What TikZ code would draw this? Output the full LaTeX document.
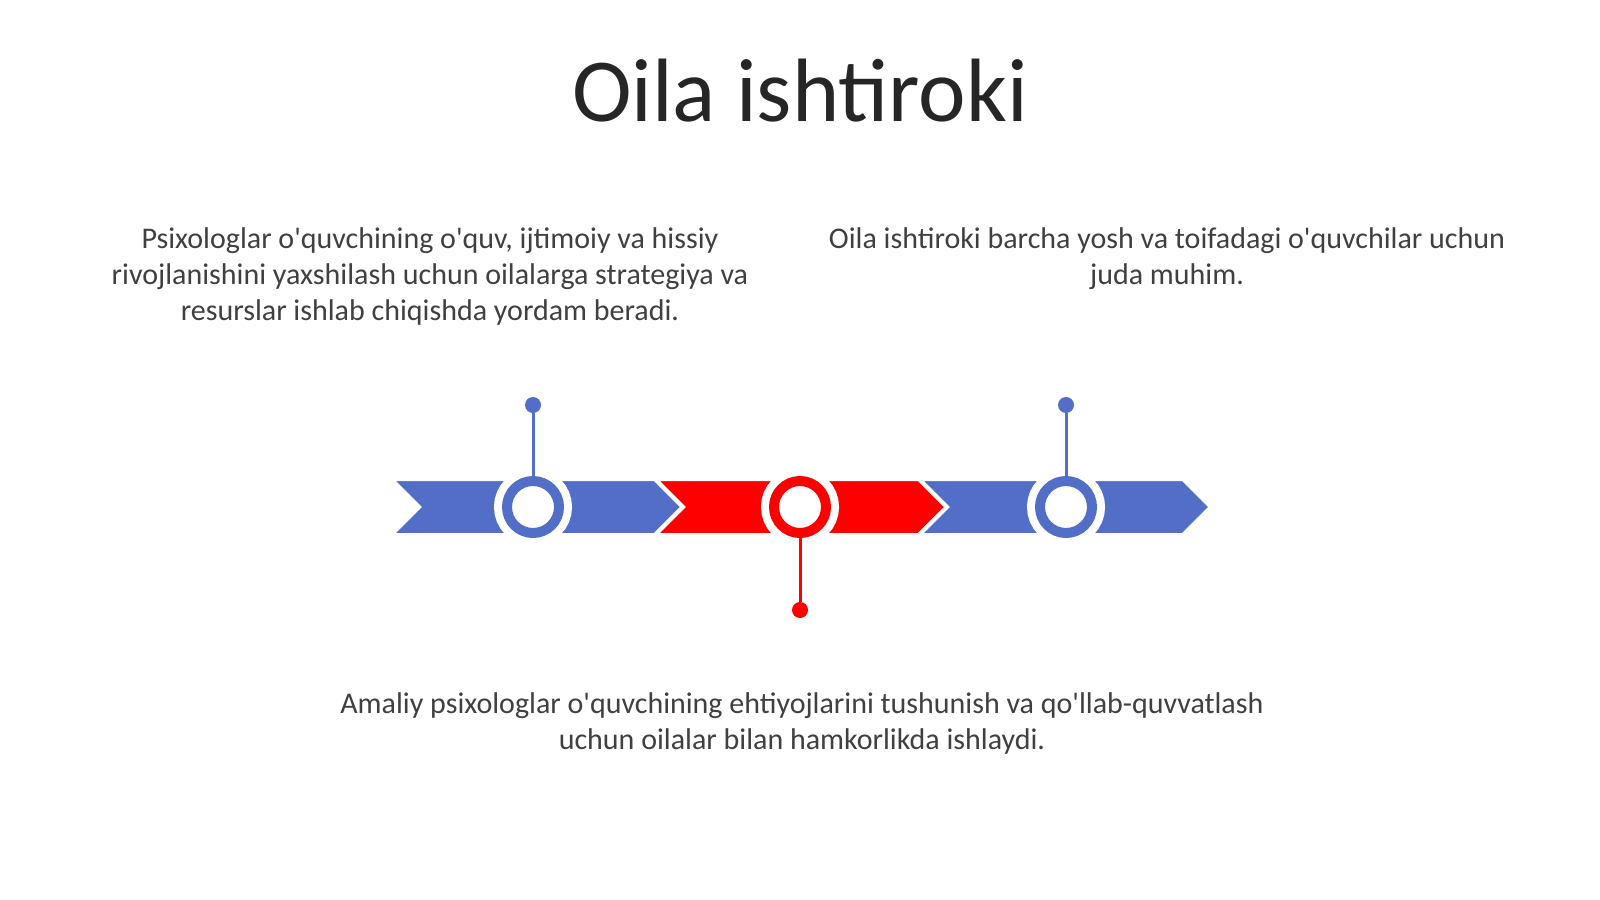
\documentclass[tikz,border=0pt]{standalone}
\usepackage{fontspec}
\setmainfont{Carlito}[Ligatures=TeXOff]
\usetikzlibrary{calc}
\definecolor{tlblue}{RGB}{82,110,198}
\definecolor{tlred}{RGB}{255,0,0}
\definecolor{tltext}{RGB}{64,64,64}
\definecolor{tltitle}{RGB}{38,38,38}
\def\chevron[#1](#2){\fill[#1, draw=white, line width=2pt] ($(#2)+(-28,-28)$) -- ++(264,0) -- ++(28,28) -- ++(-28,28) -- ++(-264,0) -- ++(28,-28) -- cycle;}

\begin{document}
\begin{tikzpicture}[x=0.5pt, y=-0.5pt,
	ring/.style={circle, draw=#1, fill=white, line width=5pt, minimum size=26pt, inner sep=0pt, preaction={draw=white, line width=13pt}},
	dot/.style={circle, fill=#1, minimum size=8pt, inner sep=0pt},
	stem/.style={draw=#1, line width=1.5pt},
	body/.style={font=\fontsize{15}{18}\selectfont, text=tltext, align=center, inner sep=0pt, anchor=north}]
		%%%%% START %%%%%
		\useasboundingbox[fill=white] (0,0) rectangle (1600,899);
		
		\node[font=\fontsize{45}{54}\selectfont, text=tltitle, inner sep=0pt, anchor=base] (title) at (800,122) {Oila ishtiroki};
		
		\node[body] (left) at (430,227) {Psixologlar o'quvchining o'quv, ijtimoiy va hissiy\\rivojlanishini yaxshilash uchun oilalarga strategiya va\\resurslar ishlab chiqishda yordam beradi.};
		\node[body] (right) at (1167,227) {Oila ishtiroki barcha yosh va toifadagi o'quvchilar uchun\\juda muhim.};
		\node[body] (bottom) at (802,692) {Amaliy psixologlar o'quvchining ehtiyojlarini tushunish va qo'llab-quvvatlash\\uchun oilalar bilan hamkorlikda ishlaydi.};
		
		% arrow band
		\chevron[tlblue](419,507)
		\chevron[tlred](683,507)
		\chevron[tlblue](947,507)
		
		\node[ring=tlblue] (m1) at (533,507) {};
		\node[ring=tlred] (m2) at (800,507) {};
		\node[ring=tlblue] (m3) at (1066,507) {};
		
		\node[dot=tlblue] (d1) at (533,405) {};
		\node[dot=tlred] (d2) at (800,610) {};
		\node[dot=tlblue] (d3) at (1066,405) {};
		
		\draw[stem=tlblue] (d1) -- (m1);
		\draw[stem=tlred] (m2) -- (d2);
		\draw[stem=tlblue] (d3) -- (m3);
		
		%%%%% END %%%%%
\end{tikzpicture}
\end{document}
